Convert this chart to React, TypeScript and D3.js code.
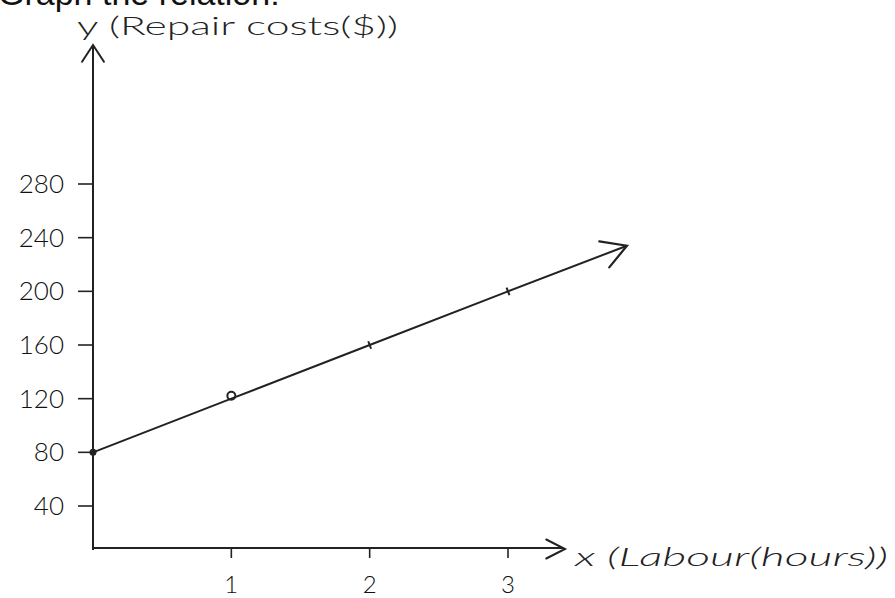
import React from "react";
import * as d3 from "d3";

// ---- data ----
const hours = [0, 1, 2, 3];
const costs = [80, 120, 160, 200];
const yTicks = [40, 80, 120, 160, 200, 240, 280];
const xTicks = [1, 2, 3];
const arrowEnd = { hours: 3.86, cost: 234 };
const title = "Graph the relation:";
const yLabel = "y (Repair costs($))";
const xLabel = "x (Labour(hours))";

const W = 895;
const H = 598;
const INK = "#222";
const HAND = "Lato, 'Open Sans', 'DejaVu Sans', sans-serif";

// layout
const ORIGIN_X = 93;
const AXIS_Y = 548;
const Y_AXIS_TOP = 45;
const X_AXIS_END = 565;

const x = d3.scaleLinear().domain([0, 3]).range([ORIGIN_X, 508]);
const y = d3.scaleLinear().domain([40, 280]).range([506, 184]);

function chevron(tx: number, ty: number, backAngle: number, len: number, spread: number) {
  const a1 = backAngle + spread;
  const a2 = backAngle - spread;
  return `M${tx + len * Math.cos(a1)},${ty + len * Math.sin(a1)}L${tx},${ty}L${tx + len * Math.cos(a2)},${ty + len * Math.sin(a2)}`;
}

export default function App() {
  const pts = hours.map((h, i) => ({ h, c: costs[i] }));
  const linePts = [...pts, { h: arrowEnd.hours, c: arrowEnd.cost }];
  const line = d3
    .line<{ h: number; c: number }>()
    .x((d) => x(d.h))
    .y((d) => y(d.c));
  const tipX = x(arrowEnd.hours);
  const tipY = y(arrowEnd.cost);
  const prev = pts[pts.length - 1];
  const back = Math.atan2(y(prev.c) - tipY, x(prev.h) - tipX);
  const dir = Math.atan2(tipY - y(prev.c), tipX - x(prev.h));
  const perp = dir + Math.PI / 2;

  return (
    <svg
      width={W}
      height={H}
      style={{ position: "absolute", left: 0, top: 0, background: "#fff" }}
    >
      <rect width={W} height={H} fill="#fff" />
      {/* cut-off heading */}
      <text x={-2} y={5} fontFamily="'Liberation Sans', Arial, sans-serif" fontSize={34} fill="#111">
        {title}
      </text>

      {/* y axis */}
      <line x1={ORIGIN_X} y1={Y_AXIS_TOP} x2={ORIGIN_X} y2={AXIS_Y + 2} stroke={INK} strokeWidth={2} />
      <path d={chevron(ORIGIN_X, Y_AXIS_TOP, Math.PI / 2, 20, 0.58)} fill="none" stroke={INK} strokeWidth={2} strokeLinecap="round" />
      <text x={77} y={35} fontFamily={HAND} fontWeight={300} fontSize={25} fill={INK} textLength={321} lengthAdjust="spacingAndGlyphs">
        {yLabel}
      </text>

      {/* x axis */}
      <line x1={ORIGIN_X} y1={AXIS_Y} x2={X_AXIS_END - 2} y2={AXIS_Y} stroke={INK} strokeWidth={2} />
      <path d={chevron(X_AXIS_END, AXIS_Y + 1, Math.PI, 21, 0.47)} fill="none" stroke={INK} strokeWidth={2} strokeLinecap="round" />
      <text x={575} y={566} fontFamily={HAND} fontWeight={300} fontStyle="italic" fontSize={25} fill={INK} textLength={313} lengthAdjust="spacingAndGlyphs">
        {xLabel}
      </text>

      {/* y ticks */}
      {yTicks.map((t) => (
        <g key={t}>
          <line x1={ORIGIN_X - 15} x2={ORIGIN_X} y1={y(t)} y2={y(t)} stroke={INK} strokeWidth={1.6} />
          <text x={64} y={y(t) + 9} textAnchor="end" fontFamily={HAND} fontWeight={300} fontSize={26} fill="#111">
            {t}
          </text>
        </g>
      ))}

      {/* x ticks */}
      {xTicks.map((t) => (
        <g key={t}>
          <line x1={x(t)} x2={x(t)} y1={AXIS_Y} y2={AXIS_Y + 10} stroke={INK} strokeWidth={1.6} />
          <text x={x(t)} y={593} textAnchor="middle" fontFamily={HAND} fontWeight={300} fontSize={24} fill="#111">
            {t}
          </text>
        </g>
      ))}

      {/* relation line */}
      <path d={line(linePts) || ""} fill="none" stroke={INK} strokeWidth={2} />
      <path d={chevron(tipX, tipY, back, 28, 0.52)} fill="none" stroke={INK} strokeWidth={2.2} strokeLinecap="round" />

      {/* plotted points */}
      {pts.map((p, i) => {
        const cx = x(p.h);
        const cy = y(p.c);
        if (i === 0) return <circle key={i} cx={cx} cy={cy} r={3.5} fill={INK} />;
        if (i === 1) return <circle key={i} cx={cx} cy={cy - 3} r={4} fill="none" stroke={INK} strokeWidth={2} />;
        return (
          <line
            key={i}
            x1={cx + 4 * Math.cos(perp)}
            y1={cy + 4 * Math.sin(perp)}
            x2={cx - 4 * Math.cos(perp)}
            y2={cy - 4 * Math.sin(perp)}
            stroke={INK}
            strokeWidth={2}
          />
        );
      })}
    </svg>
  );
}
